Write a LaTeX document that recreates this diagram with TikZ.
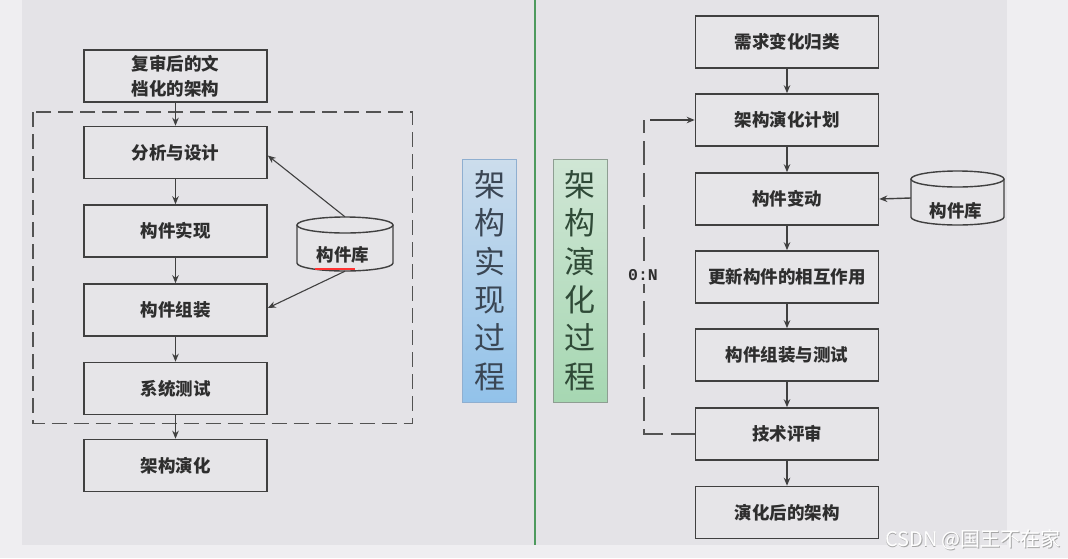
\documentclass[tikz,border=0pt]{standalone}
\usepackage{fontspec}
\setmainfont{Noto Sans CJK SC}
\newfontfamily\cjk{Noto Sans CJK SC}
\newfontfamily\monof{Liberation Mono}
\usetikzlibrary{arrows.meta,calc}
\definecolor{outerbg}{HTML}{EFEEF1}
\definecolor{panel}{HTML}{E4E3E7}
\definecolor{boxfill}{HTML}{E6E5E8}
\definecolor{edge}{HTML}{404040}
\definecolor{txt}{HTML}{2E2E2E}
\definecolor{bigtxt}{HTML}{3A4654}
\definecolor{greentxt}{HTML}{2F4A37}
\definecolor{greenline}{HTML}{4E9A5E}
\definecolor{blueTop}{HTML}{CCDDEC}
\definecolor{blueBot}{HTML}{92C2EA}
\definecolor{blueEdge}{HTML}{8FAFD0}
\definecolor{greenTop}{HTML}{D0E6D5}
\definecolor{greenBot}{HTML}{A6D7B2}
\definecolor{greenEdge}{HTML}{8E9E92}
\tikzset{
  stepbox/.style={draw=edge, line width=1.6pt, fill=boxfill, minimum width=183pt, minimum height=52pt, inner sep=0pt, align=center, text=txt, font=\cjk\bfseries\fontsize{17.5}{25}\selectfont},
  lbl/.style={text=txt, inner sep=0pt, font=\cjk\bfseries\fontsize{17.5}{20}\selectfont},
  arr/.style={draw=edge, line width=1.4pt, -{Stealth[length=8pt,width=6.5pt]}},
  cylline/.style={draw=edge, line width=1.4pt, fill=boxfill},
  dashline/.style={draw=edge!90, line width=1.6pt, dash pattern=on 15pt off 7pt},
  sidebox/.style={minimum width=54pt, minimum height=243pt, inner sep=0pt, align=center, font=\cjk\fontsize{31}{38.4}\selectfont, line width=1pt},
}
\begin{document}
\begin{tikzpicture}[x=1pt,y=-1pt]
\useasboundingbox (0,0) rectangle (1068,558);
% backgrounds
\fill[outerbg] (0,0) rectangle (1068,558);
\fill[panel] (22,0) rectangle (1007,545);
\draw[greenline, line width=2pt] (535,0) -- (535,545);

% ---------- left: realisation ----------
\draw[dashline] (33,112) rectangle (412.5,423.5);
\node[stepbox] (L1) at (175.5,76) {复审后的文\\档化的架构};
\node[stepbox] (L2) at (175.5,152.5) {分析与设计};
\node[stepbox] (L3) at (175.5,231) {构件实现};
\node[stepbox] (L4) at (175.5,310) {构件组装};
\node[stepbox] (L5) at (175.5,388.5) {系统测试};
\node[stepbox] (L6) at (175.5,465.5) {架构演化};
\draw[arr] (L1.south) -- (L2.north);
\draw[arr] (L2.south) -- (L3.north);
\draw[arr] (L3.south) -- (L4.north);
\draw[arr] (L4.south) -- (L5.north);
\draw[arr] (L5.south) -- (L6.north);

% left cylinder
\draw[cylline] (297,225) -- (297,263) arc[start angle=180, end angle=0, x radius=48, y radius=8] -- (393,225);
\draw[cylline] (345,225) ellipse[x radius=48, y radius=8];
\node[minimum width=96pt, minimum height=54pt, inner sep=0pt] (cylL) at (345,244) {};
\node[lbl] (cylLtext) at (343,255) {构件库};
\draw[red!80!white, line width=1.6pt] (315,269) -- (355,269);
\draw[arr, line width=1.1pt] (cylL.north) -- ($(L2.east)+(0,3)$);
\draw[arr, line width=1.1pt] (cylL.south) -- ($(L4.east)+(0,-2)$);

% side labels
\node[sidebox, draw=blueEdge, top color=blueTop, bottom color=blueBot, text=bigtxt] (blueBox) at (489.5,280.5) {架\\构\\实\\现\\过\\程};
\node[sidebox, draw=greenEdge, top color=greenTop, bottom color=greenBot, text=greentxt] (greenBox) at (580,280.5) {架\\构\\演\\化\\过\\程};

% ---------- right: evolution ----------
\node[stepbox] (R1) at (787,42) {需求变化归类};
\node[stepbox] (R2) at (787,120) {架构演化计划};
\node[stepbox] (R3) at (787,199) {构件变动};
\node[stepbox] (R4) at (787,277) {更新构件的相互作用};
\node[stepbox] (R5) at (787,355) {构件组装与测试};
\node[stepbox] (R6) at (787,434) {技术评审};
\node[stepbox] (R7) at (787,512.5) {演化后的架构};
\draw[arr] (R1.south) -- (R2.north);
\draw[arr] (R2.south) -- (R3.north);
\draw[arr] (R3.south) -- (R4.north);
\draw[arr] (R4.south) -- (R5.north);
\draw[arr] (R5.south) -- (R6.north);
\draw[arr] (R6.south) -- (R7.north);

% right cylinder
\draw[cylline] (911,179) -- (911,217) arc[start angle=180, end angle=0, x radius=46.5, y radius=8] -- (1004,179);
\draw[cylline] (957.5,179) ellipse[x radius=46.5, y radius=8];
\node[minimum width=93pt, minimum height=54pt, inner sep=0pt] (cylR) at (957.5,198) {};
\node[lbl] (cylRtext) at (956,211) {构件库};
\draw[arr] (cylR.west) -- (R3.east);

% feedback loop
\coordinate (lpT) at (644,120);
\draw[dashline, dash pattern=on 24pt off 8pt] (R6.west) -| (lpT);
\draw[draw=edge, line width=1.6pt, dash pattern=on 0pt off 6pt on 40pt, -{Stealth[length=8pt,width=6.5pt]}] (lpT) -- (R2.west);
\node[fill=panel, inner sep=3pt, text=txt, font=\monof\bfseries\fontsize{16.5}{16.5}\selectfont] (ratio) at (643,275) {0:N};

% watermark
\node[text=gray!70, font=\cjk\fontsize{20}{20}\selectfont] (wmShadow) at (973.8,540.8) {CSDN @国王不在家};
\node[text=white, font=\cjk\fontsize{20}{20}\selectfont] (wm) at (973,540) {CSDN @国王不在家};
\end{tikzpicture}
\end{document}
